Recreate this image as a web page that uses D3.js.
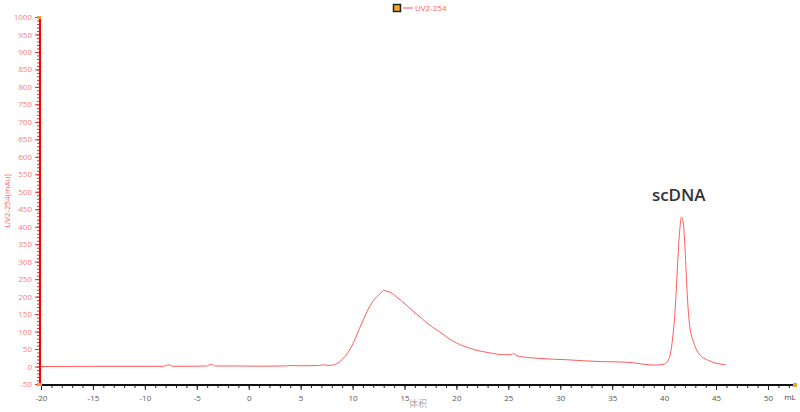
<!DOCTYPE html>
<html><head><meta charset="utf-8">
<script src="https://cdn.jsdelivr.net/npm/d3@7"></script>
<style>body{margin:0;background:#fff;font-family:"Open Sans","Noto Sans",sans-serif}</style>
</head><body><svg id="c" width="800" height="412"></svg>
<script>
const seriesName = "UV2-254";
const volume = [-20,-15,-10,-8.2,-7.7,-7.3,-5,-4.1,-3.6,-3.2,-1,1,3.5,4,5,6.8,7.2,7.6,8.1,8.75,9.23,9.71,10.2,10.67,11.15,11.63,12.1,12.6,12.85,12.95,13.24,13.7,14.2,14.7,15.16,15.6,16.1,16.6,17.1,17.7,18.4,19.0,19.6,20.4,21.25,22.0,22.85,23.6,24.45,25.3,25.5,25.7,26.05,27.66,29.26,30.87,32.47,34.07,35.67,36.95,37.9,39.2,40.0,40.48,40.8,41.06,41.28,41.5,41.67,41.83,42.02,42.2,42.43,42.88,43.37,44.3,45.9];
const absorbance = [0,0.5,0.5,0.5,5,0.5,1,1.5,6,1.5,1.5,1,1.5,3,2,3,5,3,4,14,28,47,76,109,142,171,192,207,214,218,216,211,200,188,176,164,151,139,126,113,99,86,74,62,53,46,41,37,34,34,38,33,29,24,21,19,16,14,13,11,7,4,7,23,76,162,285,390,427,414,333,219,124,66,36,17,5];
const xTicks = [-20,-15,-10,-5,0,5,10,15,20,25,30,35,40,45,50];
const yTicks = [-50,0,50,100,150,200,250,300,350,400,450,500,550,600,650,700,750,800,850,900,950,1000];
const annotation = {text:"scDNA", x:41.6, y:473};
const xLabel = "体积", xUnit = "mL", yLabel = "UV2-254(mAu)";

const svg = d3.select("#c");
const x = d3.scaleLinear().domain([-20,52.6]).range([41,795]);
const y = d3.scaleLinear().domain([-50,1000]).range([384,17]);
const fmt = d => String(d);

// y axis
const gy = svg.append("g").attr("transform","translate(40,0)");
gy.call(d3.axisLeft(y).tickValues(d3.range(-50,1001,10)).tickSize(3).tickFormat(""));
gy.selectAll(".tick line").attr("stroke","#ff2020");
gy.select(".domain").remove();
const gy2 = svg.append("g").attr("transform","translate(40,0)");
gy2.call(d3.axisLeft(y).tickValues(yTicks).tickSize(5).tickPadding(3).tickFormat(fmt));
gy2.select(".domain").remove();
gy2.selectAll(".tick line").attr("stroke","#ff2020");
gy2.selectAll("text").attr("fill","#ff7b7b").attr("font-size",8).attr("font-family","Open Sans");
svg.append("line").attr("x1",40).attr("x2",40).attr("y1",y(1000)).attr("y2",y(-50)).attr("stroke","#ff0000").attr("stroke-width",2);

// x axis
const gx = svg.append("g").attr("transform","translate(0,385)");
gx.call(d3.axisBottom(x).tickValues(d3.range(-20,53,1)).tickSize(3).tickFormat(""));
gx.select(".domain").remove();
gx.selectAll(".tick line").attr("stroke","#222");
const gx2 = svg.append("g").attr("transform","translate(0,385)");
gx2.call(d3.axisBottom(x).tickValues(xTicks).tickSize(5).tickPadding(5).tickFormat(fmt));
gx2.select(".domain").remove();
gx2.selectAll(".tick line").attr("stroke","#222");
gx2.selectAll("text").attr("fill","#555").attr("font-size",8).attr("font-family","Open Sans");
svg.append("line").attr("x1",40).attr("x2",796).attr("y1",385).attr("y2",385).attr("stroke","#111").attr("stroke-width",2);

// orange markers
svg.append("rect").attr("x",37).attr("y",y(1000)-1).attr("width",4).attr("height",3).attr("fill","#f0a030");
svg.append("rect").attr("x",37).attr("y",383).attr("width",5).attr("height",3).attr("fill","#f0a030");
svg.append("rect").attr("x",793).attr("y",383).attr("width",4).attr("height",4).attr("fill","#f0a030");

// labels
svg.append("text").attr("x",418).attr("y",407).attr("text-anchor","middle").attr("fill","#aaa").attr("font-size",9).attr("font-family","Noto Sans CJK SC").text(xLabel);
svg.append("text").attr("x",790).attr("y",400).attr("text-anchor","middle").attr("fill","#444").attr("font-size",8).attr("font-family","Open Sans").text(xUnit);
svg.append("text").attr("transform","translate(10,201) rotate(-90)").attr("text-anchor","middle").attr("fill","#ff6060").attr("font-size",8).attr("font-family","Open Sans").text(yLabel);

// legend
svg.append("rect").attr("x",393.5).attr("y",4.5).attr("width",7).attr("height",7).attr("fill","#f5a623").attr("stroke","#222").attr("stroke-width",1.5);
svg.append("line").attr("x1",403).attr("x2",413).attr("y1",8).attr("y2",8).attr("stroke","#ff5050").attr("stroke-width",1);
svg.append("text").attr("x",415).attr("y",11).attr("fill","#ff6060").attr("font-size",8).attr("font-family","Open Sans").text(seriesName);

// line
const pts = volume.map((v,i)=>[v,absorbance[i]]);
svg.append("path").datum(pts)
  .attr("d", d3.line().x(d=>x(d[0])).y(d=>y(d[1])).curve(d3.curveMonotoneX))
  .attr("fill","none").attr("stroke","#ff5c5c").attr("stroke-width",1);

// annotation
svg.append("text").attr("x",x(annotation.x)-2).attr("y",y(annotation.y)).attr("text-anchor","middle")
  .attr("font-size",17).attr("font-weight",600).attr("fill","#333").attr("font-family","Open Sans").text(annotation.text);
</script></body></html>
